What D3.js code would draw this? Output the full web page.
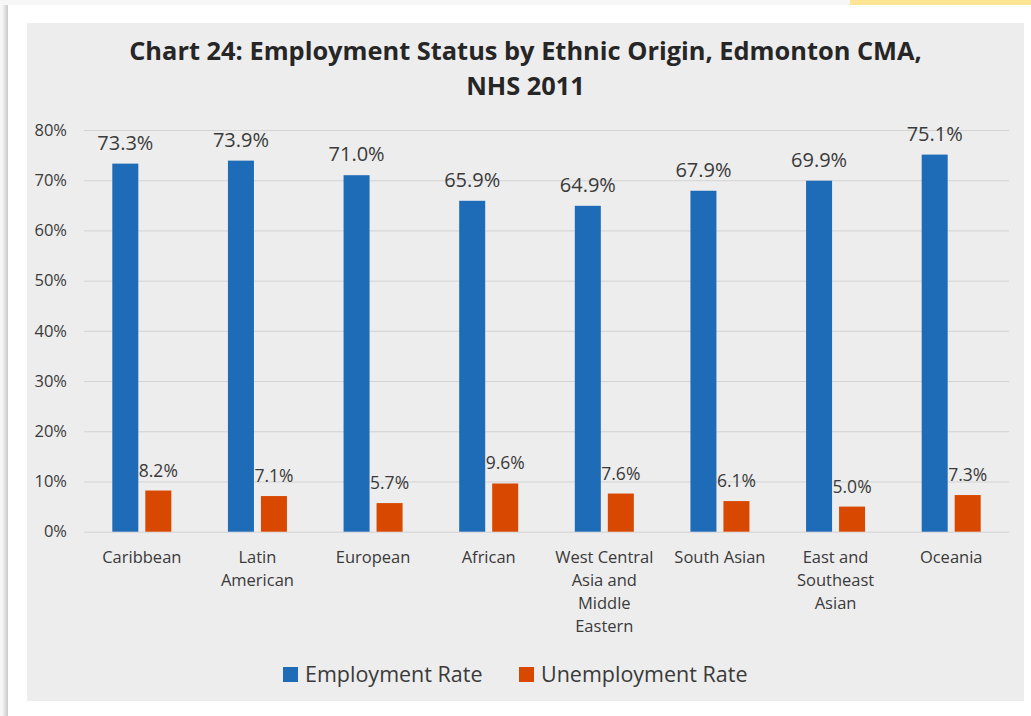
<!DOCTYPE html>
<html>
<head>
<meta charset="utf-8">
<script src="https://cdn.jsdelivr.net/npm/d3@7"></script>
<style>
  html, body { margin: 0; padding: 0; background: #f7f7f7; }
  svg { display: block; font-family: 'Open Sans', sans-serif; }
</style>
</head>
<body>
<div id="chart"></div>
<script>
const categories = ['Caribbean', 'Latin American', 'European', 'African',
  'West Central Asia and Middle Eastern', 'South Asian', 'East and Southeast Asian', 'Oceania']
const categoryLines = [
  ['Caribbean'], ['Latin', 'American'], ['European'], ['African'],
  ['West Central', 'Asia and', 'Middle', 'Eastern'], ['South Asian'],
  ['East and', 'Southeast', 'Asian'], ['Oceania']
]
const employment = [73.3, 73.9, 71.0, 65.9, 64.9, 67.9, 69.9, 75.1]
const unemployment = [8.2, 7.1, 5.7, 9.6, 7.6, 6.1, 5.0, 7.3]
const seriesNames = ['Employment Rate', 'Unemployment Rate']
const yTicks = [0, 10, 20, 30, 40, 50, 60, 70, 80]

const BLUE = '#1e6bb8'
const ORANGE = '#d94800'
const TEXT = '#3a3a3a'
const GRID = '#d3d3d3'

const W = 1031, H = 716
const svg = d3.select('#chart').append('svg').attr('width', W).attr('height', H)

// page backdrop: yellow strip, white card with soft left shadow, grey chart panel
svg.append('rect').attr('x', 850).attr('y', 0).attr('width', 181).attr('height', 5).attr('fill', '#fde594')
const shadow = svg.append('defs').append('linearGradient').attr('id', 'sh')
shadow.append('stop').attr('offset', '0%').attr('stop-color', '#f7f7f7')
shadow.append('stop').attr('offset', '100%').attr('stop-color', '#c9c9c9')
svg.append('rect').attr('x', 2).attr('y', 5).attr('width', 6).attr('height', H).attr('fill', 'url(#sh)')
svg.append('rect').attr('x', 8).attr('y', 5).attr('width', W - 8).attr('height', H).attr('fill', '#ffffff')
svg.append('rect').attr('x', 27).attr('y', 23).attr('width', 997).attr('height', 678).attr('fill', '#ededed')

// title
const title = svg.append('text')
  .attr('text-anchor', 'middle')
  .attr('font-weight', 'bold')
  .attr('font-size', 25.4)
  .attr('fill', '#262626')
title.append('tspan').attr('x', 525.5).attr('y', 60).text('Chart 24: Employment Status by Ethnic Origin, Edmonton CMA,')
title.append('tspan').attr('x', 525.5).attr('y', 95).text('NHS 2011')

const plotLeft = 84, plotRight = 1009, plotTop = 130, plotBottom = 531.7

const y = d3.scaleLinear().domain([0, 80]).range([plotBottom, plotTop])
const x0 = d3.scaleBand().domain(categories).range([plotLeft, plotRight]).paddingInner(0).paddingOuter(0)
const groupW = 59
const x1 = d3.scaleBand().domain(seriesNames).range([0, groupW]).paddingInner(0.212)
const groupOffset = (x0.bandwidth() - groupW) / 2

// grid
const g = svg.append('g')
g.append('g')
  .attr('transform', `translate(${plotLeft},0)`)
  .call(d3.axisLeft(y).tickValues(yTicks).tickSize(-(plotRight - plotLeft)).tickFormat(''))
  .call((a) => a.select('.domain').remove())
  .call((a) => a.selectAll('line').attr('stroke', GRID).attr('stroke-width', 1))

// y tick labels
g.append('g')
  .selectAll('text')
  .data(yTicks)
  .join('text')
  .attr('x', 67)
  .attr('y', (d) => y(d))
  .attr('dy', '0.35em')
  .attr('text-anchor', 'end')
  .attr('font-size', 16.5)
  .attr('fill', TEXT)
  .text((d) => `${d}%`)

const rows = categories.map((c, i) => ({ cat: c, lines: categoryLines[i], vals: [employment[i], unemployment[i]] }))

const groups = g.selectAll('.grp')
  .data(rows)
  .join('g')
  .attr('class', 'grp')
  .attr('transform', (d) => `translate(${x0(d.cat) + groupOffset},0)`)

const colors = [BLUE, ORANGE]
const labelSize = [20, 17.5]

groups.each(function (d) {
  const grp = d3.select(this)
  d.vals.forEach((v, k) => {
    const s = seriesNames[k]
    grp.append('rect')
      .attr('x', x1(s))
      .attr('y', y(v))
      .attr('width', x1.bandwidth())
      .attr('height', y(0) - y(v))
      .attr('fill', colors[k])
    grp.append('text')
      .attr('x', x1(s) + x1.bandwidth() / 2)
      .attr('y', y(v) - 14)
      .attr('text-anchor', 'middle')
      .attr('font-size', labelSize[k])
      .attr('fill', TEXT)
      .text(`${v.toFixed(1)}%`)
  })
})

// category labels
g.selectAll('.cat')
  .data(rows)
  .join('text')
  .attr('class', 'cat')
  .attr('text-anchor', 'middle')
  .attr('font-size', 16.5)
  .attr('fill', TEXT)
  .each(function (d) {
    const t = d3.select(this)
    const cx = x0(d.cat) + x0.bandwidth() / 2
    d.lines.forEach((line, i) => {
      t.append('tspan').attr('x', cx).attr('y', 563 + i * 23).text(line)
    })
  })

// legend
const legendX = [283, 519]
const legend = svg.append('g')
seriesNames.forEach((name, k) => {
  legend.append('rect')
    .attr('x', legendX[k]).attr('y', 667)
    .attr('width', 15).attr('height', 15)
    .attr('fill', colors[k])
  legend.append('text')
    .attr('x', legendX[k] + 22).attr('y', 682)
    .attr('font-size', 21.5)
    .attr('fill', TEXT)
    .text(name)
})
</script>
</body>
</html>
